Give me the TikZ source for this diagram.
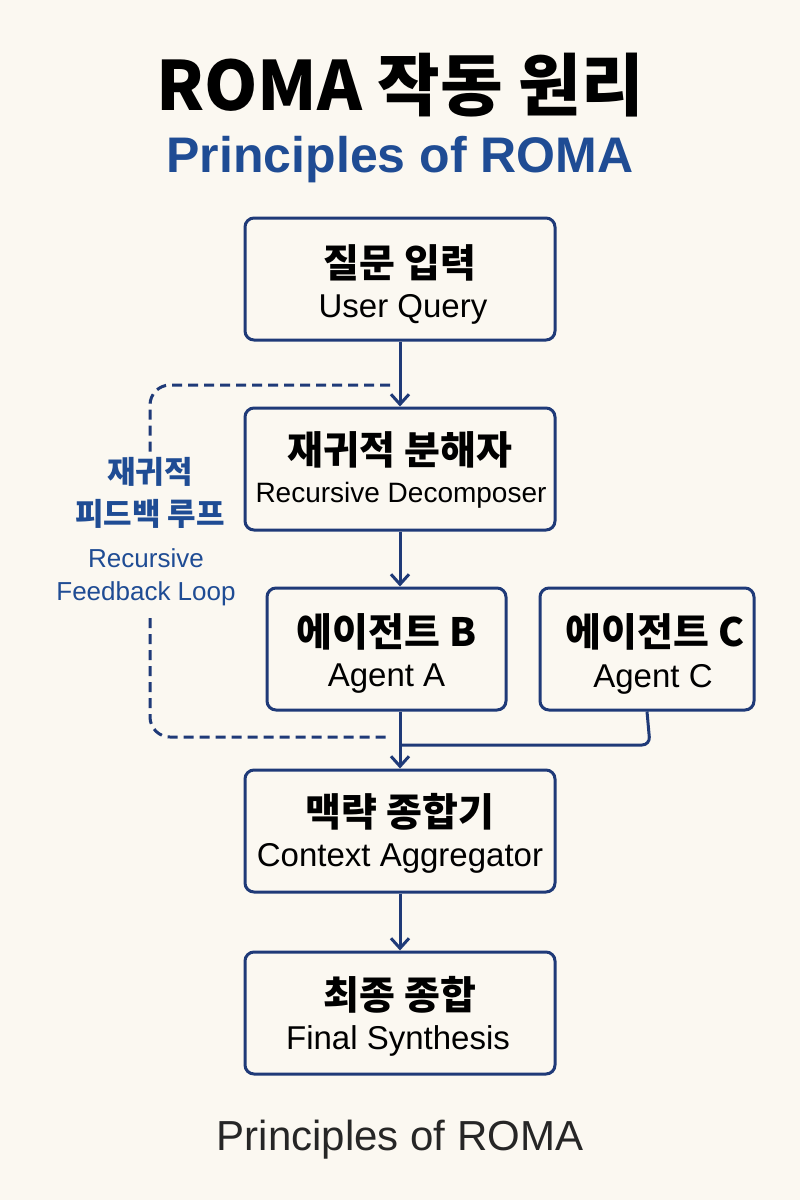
\documentclass[tikz,border=0pt]{standalone}
\usepackage{fontspec}
\setmainfont{Noto Sans CJK KR}
\newfontfamily\lat{Liberation Sans}
\usetikzlibrary{arrows.meta}
\definecolor{bg}{HTML}{FBF8F1}
\definecolor{navy}{HTML}{1F3A78}
\definecolor{tblue}{HTML}{1F4C94}
\begin{document}
\begin{tikzpicture}[x=1pt,y=-1pt,
 box/.style={draw=navy,line width=3pt,rounded corners=9pt,fill=bg,align=center,inner sep=0pt},
 arr/.style={draw=navy,line width=3pt,-{Straight Barb[length=10pt,width=18pt,line width=3pt]}},
 dsh/.style={draw=navy,line width=3pt,dash pattern=on 10pt off 6pt},
 ko/.style={font=\fontsize{39}{42}\selectfont\bfseries},
 en/.style={font=\fontsize{33}{36}\selectfont\lat}]
\fill[bg] (0,0) rectangle (800,1200);
\useasboundingbox (0,0) rectangle (800,1200);
\node (t1) at (400,85) {\fontsize{68}{72}\selectfont\bfseries ROMA 작동 원리};
\node (t2) at (400,160) {\color{tblue}\fontsize{50}{54}\selectfont\lat\bfseries Principles of ROMA};
\node (t3) at (400,1140) {\color{black!85}\fontsize{42}{46}\selectfont\lat Principles of ROMA};
\node[box,minimum width=310pt,minimum height=122pt] (b1) at (400,279) {};
\node[ko] at (400,263) {질문 입력}; \node[en] at (403,309) {User Query};
\node[box,minimum width=310pt,minimum height=122pt] (b2) at (400,469) {};
\node[ko] at (400,450) {재귀적 분해자}; \node[en,font=\fontsize{28}{30}\selectfont\lat] at (401,495) {Recursive Decomposer};
\node[box,minimum width=239pt,minimum height=122pt] (b3) at (386.5,649) {};
\node[ko] at (386.5,632) {에이전트 B}; \node[en] at (386.5,679) {Agent A};
\node[box,minimum width=214pt,minimum height=122pt] (b4) at (647,649) {};
\node[ko] at (655,632) {에이전트 C}; \node[en] at (653,679) {Agent C};
\node[box,minimum width=310pt,minimum height=122pt] (b5) at (400,831) {};
\node[ko] at (400,812) {맥략 종합기}; \node[en] at (400,858) {Context Aggregator};
\node[box,minimum width=310pt,minimum height=122pt] (b6) at (400,1013) {};
\node[ko] at (400,995) {최종 종합}; \node[en] at (398,1041) {Final Synthesis};
\coordinate (m) at (400,745);
\draw[arr] (b1.south -| 400,0) -- (b2.north -| 400,0);
\draw[arr] (b2.south -| 400,0) -- (b3.north -| 400,0);
\draw[arr] (b3.south -| 400,0) -- (b5.north -| 400,0);
\draw[navy,line width=3pt,rounded corners=8pt] (b4.south) -- (650,745) -- (m);
\draw[arr] (b5.south -| 400,0) -- (b6.north -| 400,0);
\draw[dsh,rounded corners=20pt] (390,385) -- (150,385) -- (150,455);
\draw[dsh,rounded corners=20pt] (150,618) -- (150,737) -- (390,737);
\node[tblue,align=center,font=\fontsize{31}{42}\selectfont\bfseries] (l1) at (150,493) {재귀적\\피드백 루프};
\node[tblue,align=center,font=\fontsize{26}{33}\selectfont\lat] (l2) at (146,577) {Recursive\\Feedback Loop};
\end{tikzpicture}
\end{document}
